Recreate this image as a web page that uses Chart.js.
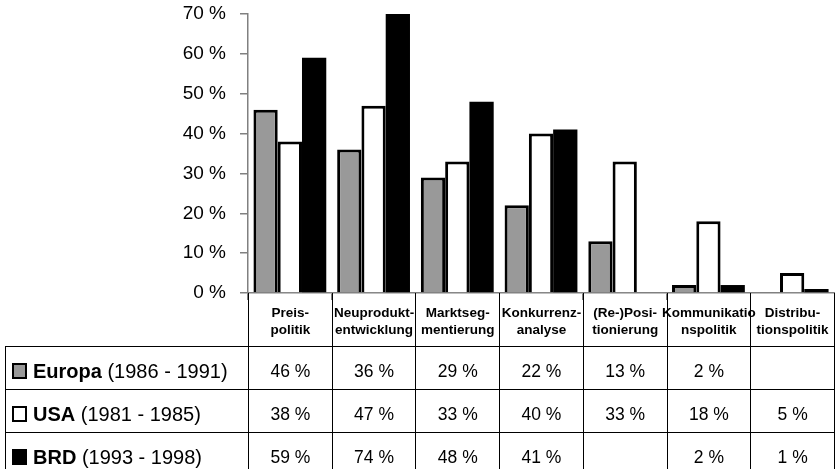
<!DOCTYPE html>
<html>
<head>
<meta charset="utf-8">
<script src="https://cdn.jsdelivr.net/npm/chart.js@4"></script>
<style>
  body { margin: 0; background: #fff; font-family: Arial, 'Liberation Sans', sans-serif; }
  #wrap { position: relative; width: 835px; height: 469px; overflow: hidden; }
  #box { position: absolute; left: 0; top: 0; width: 835px; height: 300px; }
  table { position: absolute; left: 5px; top: 293px; width: 830px; border-collapse: collapse; table-layout: fixed; }
  td { padding: 0; text-align: center; color: #000; white-space: nowrap; }
  tr.head td { height: 53px; font-weight: bold; font-size: 13.5px; line-height: 17px; border-left: 1px solid #000; border-right: 1px solid #000; border-bottom: 1px solid #000; }
  tr.head td.blank { border-left: none; border-bottom: 1px solid #000; }
  tr.head td div { display: flex; flex-direction: column; align-items: center; padding-top: 2px; }
  tr.row td { height: 37px; line-height: 22px; font-size: 17.5px; border: 1px solid #000; padding-top: 5px; }
  tr.row td.lab { text-align: left; font-size: 20px; padding-left: 6px; }
  .ico { display: inline-block; width: 11px; height: 12px; border: 2px solid #000; vertical-align: -1px; margin-right: 6px; }
</style>
</head>
<body>
<div id="wrap">
  <div id="box"><canvas id="myChart"></canvas></div>
  <table id="tab"></table>
</div>
<script>
const categories = ['Preispolitik', 'Neuproduktentwicklung', 'Marktsegmentierung', 'Konkurrenzanalyse', '(Re-)Positionierung', 'Kommunikationspolitik', 'Distributionspolitik'];
const headerLines = [['Preis-', 'politik'], ['Neuprodukt-', 'entwicklung'], ['Marktseg-', 'mentierung'], ['Konkurrenz-', 'analyse'], ['(Re-)Posi-', 'tionierung'], ['Kommunikatio', 'nspolitik'], ['Distribu-', 'tionspolitik']];

const seriesNames = ['Europa', 'USA', 'BRD'];
const seriesYears = ['(1986 - 1991)', '(1981 - 1985)', '(1993 - 1998)'];
const europa = [46, 36, 29, 22, 13, 2, null];
const usa = [38, 47, 33, 40, 33, 18, 5];
const brd = [59, 74, 48, 41, null, 2, 1];
const fills = ['#999999', '#ffffff', '#000000'];

const yMax = 70;
const yStep = 10;

const ctx = document.getElementById('myChart').getContext('2d');

const seriesData = [europa, usa, brd];

const datasets = seriesData.map((d, i) => ({
  label: seriesNames[i],
  data: d,
  backgroundColor: fills[i],
  borderColor: '#000',
  borderWidth: i === 2 ? 0 : 3,
  borderSkipped: 'start',
  categoryPercentage: 0.87,
  barPercentage: 1.0,
}));

const myChart = new Chart(ctx, {
  type: 'bar',
  data: { labels: categories, datasets },
  options: {
    responsive: true,
    maintainAspectRatio: false,
    animation: false,
    layout: { padding: { top: 14, right: 1, left: 0, bottom: 0 } },
    plugins: { legend: { display: false }, tooltip: { enabled: false } },
    scales: {
      x: {
        ticks: { display: false },
        grid: { drawOnChartArea: false, tickLength: 7, color: '#808080', lineWidth: 1 },
        border: { color: '#808080', width: 1.5 },
        afterFit: (scale) => { scale.height = 7; },
      },
      y: {
        min: 0,
        max: yMax,
        ticks: {
          stepSize: yStep,
          padding: 14,
          color: '#000',
          font: { family: 'Arial, Liberation Sans', size: 19 },
          callback: (v) => v + ' %',
        },
        grid: { drawOnChartArea: false, tickLength: 8, color: '#808080', lineWidth: 1.5 },
        border: { color: '#808080', width: 1.5 },
        afterFit: (scale) => {
          scale.width = 248;
          scale.paddingTop = 0;
          scale.paddingBottom = 0;
        },
      },
    },
  },
});

// data table under the chart
const tab = document.getElementById('tab');
let html = '<colgroup><col style="width:243px">';
for (let i = 0; i < categories.length; i++) html += '<col>';
html += '</colgroup><tr class="head"><td class="blank"></td>';
for (let lines of headerLines) {
  html += '<td><div><span>' + lines[0] + '</span><span>' + lines[1] + '</span></div></td>';
}
html += '</tr>';
seriesData.forEach((d, i) => {
  html += '<tr class="row"><td class="lab"><span class="ico" style="background:' + fills[i] + '"></span><b>' + seriesNames[i] + '</b> ' + seriesYears[i] + '</td>';
  for (let v of d) html += '<td>' + (v === null ? '' : v + ' %') + '</td>';
  html += '</tr>';
});
tab.innerHTML = html;
</script>
</body>
</html>
